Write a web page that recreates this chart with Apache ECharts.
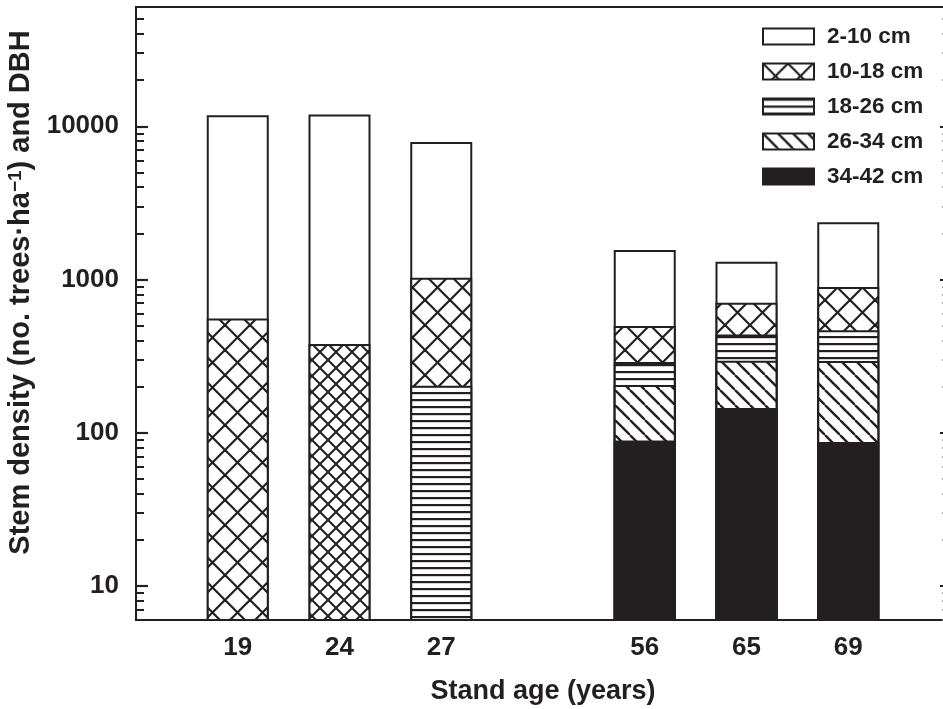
<!DOCTYPE html>
<html>
<head>
<meta charset="utf-8">
<script src="https://cdn.jsdelivr.net/npm/echarts@6/dist/echarts.min.js"></script>
<style>
html,body{margin:0;padding:0;background:#fff;}
#chart{width:943px;height:709px;}
</style>
</head>
<body>
<div id="chart"></div>
<script>
// ---- data (stem density, trees/ha, per DBH class) ----
var ages = ['19', '24', '27', '56', '65', '69'];
var classNames = ['2-10 cm', '10-18 cm', '18-26 cm', '26-34 cm', '34-42 cm'];
var d2_10  = [11260, 11560, 6880, 1059, 600, 1470];
var d10_18 = [557, 379, 823, 207, 267, 428];
var d18_26 = [null, null, 203, 85, 143, 173];
var d26_34 = [null, null, null, 116, 150, 207];
var d34_42 = [null, null, null, 89, 145, 87];
var yMajorTicks = [10, 100, 1000, 10000];
var yMinorTicks = [6, 7, 8, 9, 20, 30, 40, 50, 60, 70, 80, 90,
  200, 300, 400, 500, 600, 700, 800, 900,
  2000, 3000, 4000, 5000, 6000, 7000, 8000, 9000,
  20000, 30000, 40000, 50000];
var yMin = 6, yMax = 60000;

// ---- styling ----
var INK = '#231f20';
var FONT = '"Liberation Sans", Arial, Helvetica, sans-serif';

function makePattern(type, P, lw) {
  var c = document.createElement('canvas');
  c.width = P; c.height = P;
  var g = c.getContext('2d');
  g.fillStyle = '#ffffff';
  g.fillRect(0, 0, P, P);
  g.strokeStyle = INK;
  g.fillStyle = INK;
  g.lineWidth = lw;
  if (type === 'cross' || type === 'back') {
    for (var k = -1; k <= 1; k++) {
      g.beginPath(); g.moveTo(k * P, 0); g.lineTo(k * P + P, P); g.stroke();
    }
  }
  if (type === 'cross') {
    for (var k2 = -1; k2 <= 1; k2++) {
      g.beginPath(); g.moveTo(k2 * P + P, 0); g.lineTo(k2 * P, P); g.stroke();
    }
  }
  if (type === 'h') {
    g.fillRect(0, 0, P, lw);
  }
  return { image: c, repeat: 'repeat' };
}

var fills = [
  '#ffffff',
  makePattern('cross', 25, 2.2),
  makePattern('h', 7, 2.2),
  makePattern('back', 15, 2.4),
  INK
];
var fineCross = makePattern('cross', 16, 2);

// categories with an empty slot between the young and old stands
var cats = [''].concat(ages.slice(0, 3), [''], ages.slice(3), ['']);
function slotData(arr, styler) {
  var out = [];
  var j = 0;
  for (var i = 0; i < cats.length; i++) {
    if (cats[i] === '') { out.push('-'); continue; }
    var v = arr[j];
    if (v == null) out.push('-');
    else if (styler && styler(j)) out.push({ value: v, itemStyle: styler(j) });
    else out.push(v);
    j++;
  }
  return out;
}

// classes from bottom (largest DBH) to top
var bottomUp = [d34_42, d26_34, d18_26, d10_18, d2_10];
var cum = [];
for (var c = 0; c < bottomUp.length; c++) {
  var row = [];
  for (var j = 0; j < ages.length; j++) {
    var s = 0;
    for (var k = 0; k <= c; k++) s += (bottomUp[k][j] || 0);
    row.push(bottomUp[c][j] == null ? null : s);
  }
  cum.push(row);
}

var series = [];
for (var i = 0; i < classNames.length; i++) {
  var cIdx = classNames.length - 1 - i; // index in bottomUp
  var styler = null;
  if (i === 1) {
    styler = function (j) { return ages[j] === '24' ? { color: fineCross } : null; };
  }
  series.push({
    name: classNames[i],
    type: 'bar',
    xAxisIndex: 0,
    yAxisIndex: 0,
    barWidth: 62,
    barGap: '-100%',
    clip: true,
    animation: false,
    itemStyle: { color: fills[i], borderColor: INK, borderWidth: 2 },
    emphasis: { disabled: true },
    data: slotData(cum[cIdx], styler)
  });
}

function yAxisDef(pos, values, len, color, width, withLabel) {
  return {
    type: 'log',
    logBase: 10,
    min: yMin,
    max: yMax,
    position: pos,
    gridIndex: 0,
    axisLine: { show: withLabel, lineStyle: { color: INK, width: 2 } },
    axisTick: { show: true, inside: true, length: len, customValues: values,
      lineStyle: { color: color, width: width } },
    minorTick: { show: false },
    splitLine: { show: false },
    axisLabel: withLabel ? {
      show: true, customValues: values, margin: 17,
      color: INK, fontSize: 26, fontWeight: 'bold', fontFamily: FONT,
      formatter: function (v) { return String(Math.round(v)); }
    } : { show: false }
  };
}

var yAxes = [
  yAxisDef('left', yMajorTicks, 12, INK, 2.2, true),
  yAxisDef('left', yMinorTicks, 8, INK, 2, false),
  yAxisDef('right', yMajorTicks, 10, INK, 2, false),
  yAxisDef('right', yMinorTicks, 8, '#8a8a8a', 1.5, false)
];
yAxes[0].name = 'Stem density (no. trees\u00b7ha{sup|\u22121}) and DBH';
yAxes[0].nameLocation = 'middle';
yAxes[0].nameGap = 86;
yAxes[0].nameRotate = 90;
yAxes[0].nameTextStyle = {
  color: INK, fontSize: 29, fontWeight: 'bold', fontFamily: FONT,
  padding: [0, 0, 0, 42],
  rich: { sup: { fontSize: 19, fontWeight: 'bold', fontFamily: FONT, color: INK, padding: [0, 0, 12, 0] } }
};

var option = {
  animation: false,
  backgroundColor: '#ffffff',
  grid: {
    left: 136, top: 7, right: -7, bottom: 89,
    outerBoundsMode: 'none',
    containLabel: false,
    show: true, borderColor: INK, borderWidth: 2, backgroundColor: 'transparent'
  },
  legend: {
    orient: 'vertical',
    left: 762, top: 25,
    padding: 0,
    itemWidth: 51, itemHeight: 16, itemGap: 12,
    icon: 'rect',
    selectedMode: false,
    data: classNames,
    textStyle: { color: INK, fontSize: 22.5, fontWeight: 'bold', fontFamily: FONT, padding: [0, 0, 0, 8] },
    itemStyle: { borderColor: INK, borderWidth: 2 }
  },
  xAxis: {
    type: 'category',
    data: cats,
    boundaryGap: false,
    name: 'Stand age (years)',
    nameLocation: 'middle',
    nameGap: 58,
    nameTextStyle: { color: INK, fontSize: 27, fontWeight: 'bold', fontFamily: FONT },
    axisLine: { show: true, lineStyle: { color: INK, width: 2 } },
    axisTick: { show: false },
    splitLine: { show: false },
    axisLabel: { color: INK, fontSize: 26, fontWeight: 'bold', fontFamily: FONT, margin: 15, interval: 0 }
  },
  yAxis: yAxes,
  series: series
};

var chart = echarts.init(document.getElementById('chart'), null, { renderer: 'canvas' });
chart.setOption(option);
</script>
</body>
</html>
